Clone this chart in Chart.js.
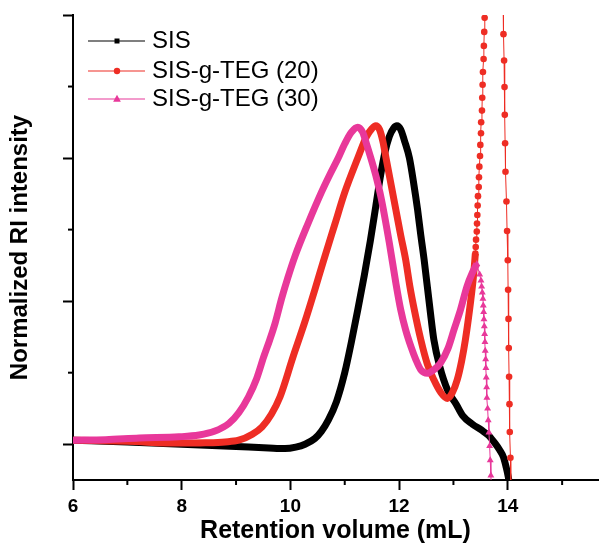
<!DOCTYPE html>
<html>
<head>
<meta charset="utf-8">
<script src="https://cdn.jsdelivr.net/npm/chart.js@4.4.1/dist/chart.umd.min.js"></script>
<style>
  html, body { margin: 0; padding: 0; background: #fff; }
  #wrap { width: 602px; height: 546px; }
</style>
</head>
<body>
<div id="wrap"><canvas id="chart"></canvas></div>
<script>
// GPC traces, retention volume (mL) vs normalized RI
const sisX = [6.0, 7.0, 8.0, 9.0, 9.6, 9.9, 10.1, 10.27, 10.45, 10.57, 10.7, 10.85, 11.0, 11.12, 11.24, 11.36, 11.47, 11.57, 11.66, 11.74, 11.82, 11.9, 11.96, 12.03, 12.1, 12.19, 12.27, 12.34, 12.4, 12.46, 12.57, 12.64, 12.75, 12.89, 13.05, 13.17, 13.35, 13.52, 13.65, 13.77, 13.85, 13.92, 13.97, 14.01, 14.03];
const sisY = [0.014, 0.008, 0.0, -0.008, -0.013, -0.015, -0.01, 0.0, 0.02, 0.045, 0.085, 0.15, 0.25, 0.355, 0.47, 0.59, 0.71, 0.83, 0.94, 1.02, 1.075, 1.105, 1.113, 1.1, 1.06, 1.0, 0.91, 0.82, 0.73, 0.646, 0.47, 0.365, 0.27, 0.19, 0.14, 0.10, 0.07, 0.049, 0.03, 0.002, -0.02, -0.045, -0.08, -0.115, -0.14];

const teg20X = [6.0, 7.0, 7.95, 8.44, 8.8, 9.05, 9.3, 9.48, 9.65, 9.81, 10.05, 10.27, 10.45, 10.6, 10.82, 11.0, 11.24, 11.4, 11.5, 11.57, 11.64, 11.7, 11.76, 11.85, 11.94, 12.03, 12.12, 12.2, 12.28, 12.4, 12.52, 12.64, 12.77, 12.89, 12.98, 13.07, 13.15, 13.22, 13.32, 13.37, 13.403];
const teg20Y = [0.014, 0.01, 0.004, 0.005, 0.008, 0.014, 0.035, 0.061, 0.105, 0.166, 0.306, 0.43, 0.54, 0.635, 0.77, 0.88, 1.0, 1.075, 1.103, 1.113, 1.1, 1.06, 1.0, 0.91, 0.82, 0.73, 0.646, 0.55, 0.47, 0.365, 0.28, 0.225, 0.18, 0.16, 0.18, 0.225, 0.29, 0.365, 0.505, 0.59, 0.666];
// off-scale solvent peak after the main trace
const teg20TailX = [13.403, 13.41, 13.416, 13.43, 13.434, 13.44, 13.446, 13.452, 13.465, 13.47, 13.477, 13.489, 13.495, 13.507, 13.51, 13.525, 13.53, 13.537, 13.543, 13.555, 13.56, 13.567, 13.574, 13.58, 13.915, 13.921, 13.932, 13.94, 13.945, 13.951, 13.958, 13.976, 13.987, 14.0, 14.006, 14.013, 14.018, 14.024, 14.031, 14.037, 14.049, 14.055];
const teg20TailY = [0.666, 0.689, 0.715, 0.743, 0.771, 0.801, 0.834, 0.867, 0.899, 0.933, 0.97, 1.007, 1.046, 1.087, 1.125, 1.166, 1.211, 1.256, 1.301, 1.346, 1.392, 1.441, 1.49, 1.54, 1.54, 1.433, 1.341, 1.248, 1.151, 1.052, 0.952, 0.848, 0.745, 0.643, 0.54, 0.438, 0.336, 0.236, 0.14, 0.043, -0.047, -0.14];

const teg30X = [6.0, 6.6, 7.22, 7.95, 8.32, 8.6, 8.87, 9.05, 9.23, 9.38, 9.51, 9.62, 9.72, 9.84, 9.95, 10.09, 10.33, 10.57, 10.72, 10.88, 11.0, 11.12, 11.24, 11.33, 11.4, 11.48, 11.57, 11.67, 11.82, 11.94, 12.03, 12.12, 12.22, 12.31, 12.4, 12.52, 12.64, 12.76, 12.9, 13.01, 13.13, 13.25, 13.35, 13.43];
const teg30Y = [0.014, 0.016, 0.022, 0.026, 0.032, 0.045, 0.073, 0.11, 0.166, 0.23, 0.306, 0.365, 0.424, 0.51, 0.58, 0.66, 0.774, 0.88, 0.94, 1.0, 1.05, 1.09, 1.108, 1.09, 1.05, 1.0, 0.94, 0.86, 0.704, 0.564, 0.47, 0.4, 0.34, 0.295, 0.26, 0.248, 0.26, 0.283, 0.335, 0.4, 0.47, 0.552, 0.6, 0.63];
const teg30TailX = [13.43, 13.483, 13.507, 13.519, 13.531, 13.543, 13.549, 13.556, 13.562, 13.568, 13.574, 13.58, 13.585, 13.593, 13.598, 13.604, 13.611, 13.616, 13.629, 13.64, 13.653, 13.666, 13.677, 13.689, 13.695];
const teg30TailY = [0.63, 0.593, 0.572, 0.551, 0.53, 0.508, 0.485, 0.462, 0.437, 0.412, 0.385, 0.357, 0.327, 0.297, 0.266, 0.233, 0.199, 0.162, 0.125, 0.084, 0.041, -0.006, -0.056, -0.109, -0.14];

const seriesNames = ['SIS', 'SIS-g-TEG (20)', 'SIS-g-TEG (30)'];
const xTicks = [6, 7, 8, 9, 10, 11, 12, 13, 14, 15];
const xMajor = [6, 8, 10, 12, 14];
const yTicks = [0, 0.25, 0.5, 0.75, 1.0, 1.25, 1.5];
const yMajor = [0, 0.5, 1.0, 1.5];

const BLACK = '#000000', RED = '#ee2d24', PINK = '#e8389a';
const FONT = "'Liberation Sans', Arial, sans-serif";

const pts = (xs, ys) => xs.map((x, i) => ({ x: x, y: ys[i] }));

// minor ticks (shorter) on both axes
const minorTicks = {
  id: 'minorTicks',
  afterDraw(chart) {
    const { ctx, scales: { x, y } } = chart;
    ctx.save();
    ctx.strokeStyle = '#000';
    ctx.lineWidth = 2;
    xTicks.filter(v => !xMajor.includes(v)).forEach(v => {
      const px = x.getPixelForValue(v);
      ctx.beginPath(); ctx.moveTo(px, x.top); ctx.lineTo(px, x.top + 5); ctx.stroke();
    });
    yTicks.filter(v => !yMajor.includes(v)).forEach(v => {
      const py = y.getPixelForValue(v);
      ctx.beginPath(); ctx.moveTo(y.right, py); ctx.lineTo(y.right - 5, py); ctx.stroke();
    });
    ctx.restore();
  }
};

// legend as in Origin: thin line with the marker in the middle
const lineLegend = {
  id: 'lineLegend',
  afterDraw(chart) {
    const ctx = chart.ctx;
    const rows = [
      { color: BLACK, style: 'rect', r: 2.5 },
      { color: RED, style: 'circle', r: 3.2 },
      { color: PINK, style: 'triangle', r: 3.5 }
    ];
    const rowY = [41, 71, 99];
    ctx.save();
    ctx.font = '24px ' + FONT;
    ctx.textBaseline = 'middle';
    rows.forEach((row, i) => {
      const yy = rowY[i];
      ctx.strokeStyle = row.color;
      ctx.fillStyle = row.color;
      ctx.lineWidth = 1.2;
      ctx.beginPath(); ctx.moveTo(88, yy); ctx.lineTo(145, yy); ctx.stroke();
      ctx.beginPath();
      if (row.style === 'rect') ctx.rect(117 - row.r, yy - row.r, row.r * 2, row.r * 2);
      else if (row.style === 'circle') ctx.arc(117, yy, row.r, 0, Math.PI * 2);
      else { ctx.moveTo(117, yy - row.r * 1.2); ctx.lineTo(117 + row.r * 1.1, yy + row.r * 0.8); ctx.lineTo(117 - row.r * 1.1, yy + row.r * 0.8); ctx.closePath(); }
      ctx.fill();
      ctx.fillStyle = '#000';
      ctx.fillText(seriesNames[i], 152, yy);
    });
    ctx.restore();
  }
};

const band = (label, data, color, order) => ({
  label, data, order,
  borderColor: color, backgroundColor: color,
  borderWidth: 7, pointRadius: 0,
  cubicInterpolationMode: 'monotone'
});
const tail = (label, data, color, style, r, order) => ({
  label, data, order,
  borderColor: color, backgroundColor: color,
  borderWidth: 1, tension: 0,
  pointStyle: style, pointRadius: r, pointBorderWidth: 0
});

new Chart(document.getElementById('chart'), {
  type: 'line',
  data: {
    datasets: [
      band(seriesNames[0], pts(sisX, sisY), BLACK, 4),
      band(seriesNames[1], pts(teg20X, teg20Y), RED, 3),
      tail('', pts(teg20TailX, teg20TailY), RED, 'circle', 3.3, 2),
      band(seriesNames[2], pts(teg30X, teg30Y), PINK, 1),
      tail('', pts(teg30TailX, teg30TailY), PINK, 'triangle', 4, 0)
    ]
  },
  options: {
    responsive: true,
    maintainAspectRatio: false,
    animation: false,
    events: [],
    layout: { padding: { top: 15, right: 0, bottom: 0, left: 0 } },
    plugins: { legend: { display: false }, tooltip: { enabled: false } },
    scales: {
      x: {
        type: 'linear', min: 6, max: 15.66,
        afterBuildTicks: s => { s.ticks = xTicks.map(v => ({ value: v })); },
        afterFit: s => { s.height = 66; },
        border: { display: true, color: '#000', width: 2 },
        grid: {
          drawOnChartArea: false, drawTicks: true, tickLength: 10, tickWidth: 2,
          tickColor: c => xMajor.includes(c.tick && c.tick.value) ? '#000' : 'rgba(0,0,0,0)'
        },
        ticks: {
          autoSkip: false, maxRotation: 0, padding: 5, color: '#000',
          font: { family: FONT, size: 19, weight: 'bold' },
          callback: v => xMajor.includes(v) ? String(v) : ''
        },
        title: {
          display: true, text: 'Retention volume (mL)', color: '#000',
          font: { family: FONT, size: 25, weight: 'bold' },
          padding: { top: 0, bottom: 0 }
        }
      },
      y: {
        type: 'linear', min: -0.125, max: 1.5,
        afterBuildTicks: s => { s.ticks = yTicks.map(v => ({ value: v })); },
        afterFit: s => { s.width = 73; },
        border: { display: true, color: '#000', width: 2 },
        grid: {
          drawOnChartArea: false, drawTicks: true, tickLength: 10, tickWidth: 2,
          tickColor: c => yMajor.includes(c.tick && c.tick.value) ? '#000' : 'rgba(0,0,0,0)'
        },
        ticks: { display: false },
        title: {
          display: true, text: 'Normalized RI intensity', color: '#000',
          font: { family: FONT, size: 24, weight: 'bold' },
          padding: { top: 6, bottom: 0 }
        }
      }
    }
  },
  plugins: [minorTicks, lineLegend]
});
</script>
</body>
</html>
